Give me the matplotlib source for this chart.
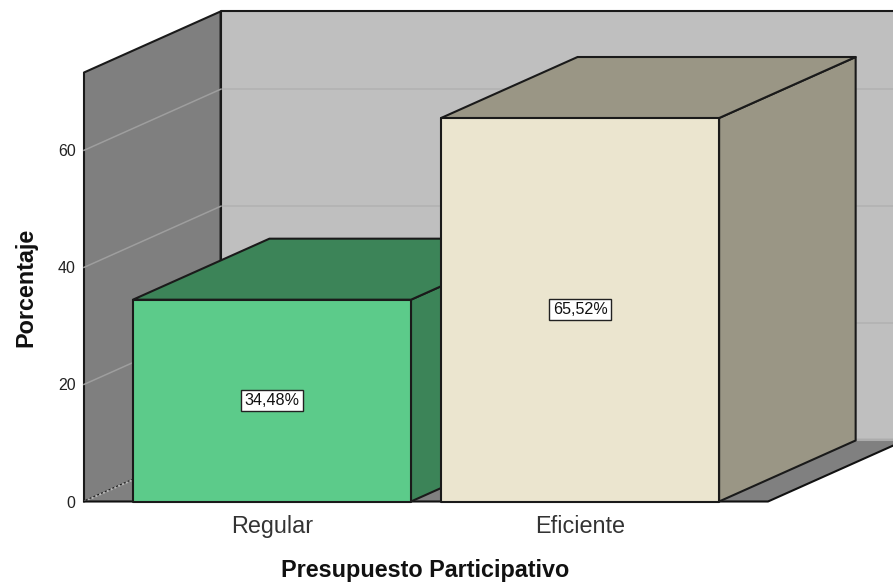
#!/usr/bin/env python3
"""3D-look SPSS bar chart, drawn as flat polygons with an oblique offset."""
import matplotlib
matplotlib.use("Agg")
import matplotlib.pyplot as plt
from matplotlib.patches import Polygon

categories = ["Regular", "Eficiente"]
values = [34.48, 65.52]
value_labels = ["34,48%", "65,52%"]
yticks = [0, 20, 40, 60]

W, H = 893, 586
LEFT, RIGHT, TOP, BOTTOM = 84, 768, 72.5, 501.5
YMAX = 73.3
X0, X1 = -0.61, 1.61
BAR_W = 0.9026
# depth offset of the oblique view, in data units
DX = 136.5 / 308
DY = 61 / 5.85

EDGE = "#1a1a1a"
FACES = [("#5ccb8a", "#3c8458", "#3c8458"), ("#ebe5cf", "#9a9685", "#9a9685")]

plt.rcParams["font.family"] = ["Liberation Sans", "DejaVu Sans"]

fig = plt.figure(figsize=(W / 100, H / 100), dpi=100, facecolor="white")
ax = fig.add_axes([LEFT / W, 1 - BOTTOM / H, (RIGHT - LEFT) / W, (BOTTOM - TOP) / H])
ax.set_xlim(X0, X1)
ax.set_ylim(0, YMAX)
ax.patch.set_visible(False)
for s in ax.spines.values():
    s.set_visible(False)


def poly(pts, fc, ec=EDGE, lw=1.5, z=1):
    ax.add_patch(Polygon(pts, closed=True, fc=fc, ec=ec, lw=lw, zorder=z,
                         clip_on=False, joinstyle="round"))


# walls and floor
poly([(X0 + DX, DY), (X1 + DX, DY), (X1 + DX, YMAX + DY), (X0 + DX, YMAX + DY)], "#bfbfbf", z=1)
poly([(X0, 0), (X0 + DX, DY), (X0 + DX, YMAX + DY), (X0, YMAX)], "#7f7f7f", z=2)
poly([(X0, 0), (X1, 0), (X1 + DX, DY), (X0 + DX, DY)], "#808080", ec="none", z=2)
ax.plot([X0, X1, X1 + DX], [0, 0, DY], color="#111111", lw=1.5, zorder=3, clip_on=False)
ax.plot([X0 + DX, X1 + DX], [DY, DY], color="#acacac", lw=1.5, zorder=2, clip_on=False)

# grid lines on the walls
for t in yticks[1:]:
    ax.plot([X0 + DX, X1 + DX], [t + DY, t + DY], color="#b4b4b4", lw=1.4, zorder=1.5, clip_on=False)
    ax.plot([X0, X0 + DX], [t, t + DY], color="#9e9e9e", lw=1.1, zorder=2.5, clip_on=False)
ax.plot([X0, X0 + DX], [0, DY], color="#b5b5b5", lw=1.5, ls=(0, (1, 1)), zorder=2.5, clip_on=False)

# bars: side, top, front
for i, (v, lab) in enumerate(zip(values, value_labels)):
    l, r = i - BAR_W / 2, i + BAR_W / 2
    front, top, side = FACES[i]
    z = 4 + i
    poly([(r, 0), (r + DX, DY), (r + DX, v + DY), (r, v)], side, z=z)
    poly([(l, v), (r, v), (r + DX, v + DY), (l + DX, v + DY)], top, z=z)
    poly([(l, 0), (r, 0), (r, v), (l, v)], front, z=z)
    ax.text(i, v / 2, lab, ha="center", va="center", fontsize=11.6, color="#111111", zorder=z + 1,
            bbox=dict(boxstyle="square,pad=0.2", fc="white", ec="#222222", lw=1))

ax.set_xticks(range(len(categories)), categories)
ax.set_yticks(yticks)
ax.tick_params(axis="x", length=0, pad=9.5, labelsize=16.8, labelcolor="#333333")
ax.tick_params(axis="y", length=0, pad=6, labelsize=11.5, labelcolor="#222222")

fig.text(425 / W, 1 - 571 / H, "Presupuesto Participativo", ha="center", va="center",
         fontsize=16.8, fontweight="bold", color="#111111")
fig.text(26 / W, 1 - 287 / H, "Porcentaje", ha="center", va="center", rotation=90,
         fontsize=16.8, fontweight="bold", color="#111111")

fig.savefig("out.png", dpi=100, facecolor="white")
